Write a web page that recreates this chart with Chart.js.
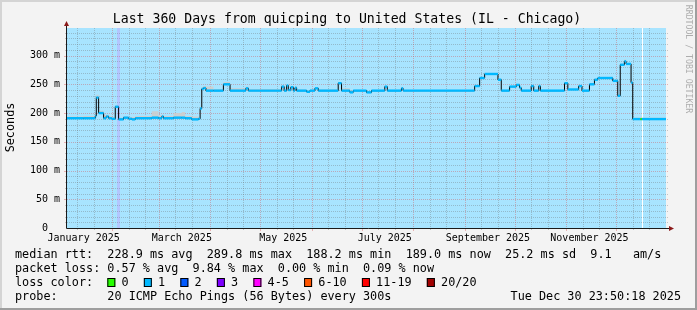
<!DOCTYPE html>
<html>
<head>
<meta charset="utf-8">
<script src="https://cdn.jsdelivr.net/npm/chart.js@4.4.1/dist/chart.umd.min.js"></script>
<style>
html, body { margin: 0; padding: 0; background: #f3f3f3; }
canvas { display: block; }
</style>
</head>
<body>
<canvas id="chart" width="697" height="310"></canvas>
<script>
// days since Jan 5 2025 where each median step starts
const stepDay = [0, 10, 17, 17.6, 19, 22, 23.5, 25, 27, 29, 31, 34, 37, 39, 41, 51, 55, 57, 58, 64,
  69, 71, 75, 79, 80, 81, 82, 83.5, 88, 94, 98, 107.5, 109, 129, 130.5, 132, 133, 134.5, 136, 137,
  138, 144, 146, 149, 151, 163, 165, 170, 172, 180, 183, 191, 192.5, 201, 202, 245, 248, 251, 259, 261,
  266, 270, 272, 273, 279, 280.5, 283.5, 284.5, 299, 301, 307.5, 309.5, 314, 317, 319, 328, 331, 332.5, 335, 336,
  339, 340, 344.7, 345.5];
// median rtt (ms)
const median = [191, 191, 195, 227, 200, 191, 194, 191, 190, 211, 189, 192, 190, 189, 191, 192, 191, 194, 191, 192,
  192, 191, 189, 190, 208, 242, 243.5, 239, 239, 250, 239, 243, 239, 246, 239, 248, 240, 245, 239, 244,
  239, 237, 239, 243, 239, 252, 239, 236, 239, 236, 239, 246, 239, 243, 239, 247, 261, 268, 258, 239,
  246, 249, 244, 239, 247, 239, 247, 239, 252, 241, 247, 239, 250, 258, 261, 256, 230, 284, 290, 285.5,
  253, 189.5, 189.5, 189.5];
// top of the smoke (ms)
const smokeTop = [194, 195, 199, 232, 204, 197, 197, 195, 193, 213, 192, 194, 193, 193, 195, 203, 196, 197, 195, 200,
  202, 195, 194, 192, 210, 245, 247, 246, 242, 254, 243, 246, 242, 248, 242, 250, 242, 247, 241, 246,
  241, 239, 241, 244, 241, 253, 243, 238, 240, 237, 240, 247, 240, 244, 240, 248, 262, 269, 259, 240,
  247, 250, 245, 240, 248, 240, 248, 240, 253, 242, 248, 240, 251, 259, 262, 257, 232, 286, 293, 287,
  255, 192, 194, 192];
// loss colour bin of each step
const lossBin = [1, 1, 1, 1, 1, 1, 1, 1, 1, 1, 1, 1, 1, 1, 1, 1, 1, 1, 1, 1,
  1, 1, 1, 1, 1, 1, 1, 1, 1, 1, 1, 1, 1, 1, 1, 1, 1, 1, 1, 1,
  1, 1, 1, 1, 1, 1, 1, 1, 1, 1, 1, 1, 1, 1, 1, 1, 1, 1, 1, 1,
  1, 1, 1, 1, 1, 1, 1, 1, 1, 1, 1, 1, 1, 1, 1, 1, 1, 1, 1, 1,
  1, 1, 0, 1];
const endDay = 360;

const bandDays = [30.5];
const gapDays = [345.3];

const monthStarts = [27, 55, 86, 116, 147, 177, 208, 239, 269, 300, 330];
const minorDays = [6, 16, 37, 47, 65, 75, 96, 106, 126, 136, 157, 167, 187, 197, 218, 228,
  249, 259, 279, 289, 310, 320, 340, 350];
const labelDays = [10, 69, 130, 191, 253, 314];
const labelText = ['January 2025', 'March 2025', 'May 2025', 'July 2025', 'September 2025', 'November 2025'];
const yTicks = [0, 50, 100, 150, 200, 250, 300];
const yMax = 348;

const lossColors = ['#26ff00', '#00b8ff', '#0059ff', '#7e00ff', '#ff00ff', '#ff5500', '#ff0000', '#a10000'];
const lossLabels = ['0', '1', '2', '3', '4-5', '6-10', '11-19', '20/20'];

const titleText = 'Last 360 Days from quicping to United States (IL - Chicago)';
const legendLines = [
  'median rtt:  228.9 ms avg  289.8 ms max  188.2 ms min  189.0 ms now  25.2 ms sd  9.1   am/s',
  'packet loss: 0.57 % avg  9.84 % max  0.00 % min  0.09 % now',
  'loss color:',
  'probe:       20 ICMP Echo Pings (56 Bytes) every 300s'
];
const stampText = 'Tue Dec 30 23:50:18 2025';

const mono = "'DejaVu Sans Mono', monospace";

// build points
var linePts = stepDay.map((d, i) => ({x: d, y: median[i]}));
linePts.push({x: endDay, y: median[median.length - 1]});
var smokePts = stepDay.map((d, i) => ({x: d, y: smokeTop[i]}));
smokePts.push({x: endDay, y: smokeTop[smokeTop.length - 1]});
var bluePts = [], blueBin = [];
stepDay.forEach((d, i) => {
    var next = i + 1 < stepDay.length ? stepDay[i + 1] : endDay;
    bluePts.push({x: d, y: median[i]}, {x: next, y: median[i]}, {x: next, y: null});
    blueBin.push(lossBin[i], lossBin[i], lossBin[i]);
});

function crisp(v) { return Math.round(v) + 0.5; }

const rrdPlugin = {
    id: 'rrd',
    beforeDraw(chart) {
        const ctx = chart.ctx, a = chart.chartArea;
        const x = chart.scales.x;
        ctx.save();
        ctx.fillStyle = '#f3f3f3';
        ctx.fillRect(0, 0, chart.width, chart.height);
        // frame
        ctx.fillStyle = '#d4d4d4';
        ctx.fillRect(0, 0, chart.width, 2);
        ctx.fillRect(0, 0, 2, chart.height);
        ctx.fillStyle = '#9e9e9e';
        ctx.fillRect(0, chart.height - 2, chart.width, 2);
        ctx.fillRect(chart.width - 2, 0, 2, chart.height);
        // canvas
        ctx.fillStyle = '#a8e4ff';
        ctx.fillRect(a.left, a.top, a.right - a.left, a.bottom - a.top);
        bandDays.forEach(d => {
            ctx.fillStyle = '#b3c6ff';
            ctx.fillRect(Math.round(x.getPixelForValue(d)) - 1, a.top, 3, a.bottom - a.top);
        });
        gapDays.forEach(d => {
            ctx.fillStyle = '#ffffff';
            ctx.fillRect(Math.round(x.getPixelForValue(d)), a.top, 1, a.bottom - a.top);
        });
        ctx.restore();
    },
    beforeDatasetsDraw(chart) {
        const ctx = chart.ctx, a = chart.chartArea;
        const x = chart.scales.x, y = chart.scales.y;
        const minorCol = 'rgba(110,110,110,0.35)';
        const majorCol = 'rgba(215,70,70,0.38)';
        ctx.save();
        ctx.lineWidth = 1;
        // horizontal grid
        for (var v = 10; v < yMax; v += 10) {
            var py = crisp(y.getPixelForValue(v));
            var major = yTicks.indexOf(v) >= 0;
            ctx.strokeStyle = major ? majorCol : minorCol;
            ctx.setLineDash([1, 1]);
            ctx.beginPath(); ctx.moveTo(a.left, py); ctx.lineTo(a.right + 3, py); ctx.stroke();
            ctx.setLineDash([]);
            ctx.beginPath(); ctx.moveTo(a.left - (major ? 3 : 2), py); ctx.lineTo(a.left, py); ctx.stroke();
        }
        // vertical grid
        function vline(d, col, tick) {
            var px = crisp(x.getPixelForValue(d));
            ctx.strokeStyle = col;
            ctx.setLineDash([1, 1]);
            ctx.beginPath(); ctx.moveTo(px, a.top); ctx.lineTo(px, a.bottom); ctx.stroke();
            ctx.setLineDash([]);
            ctx.beginPath(); ctx.moveTo(px, a.bottom); ctx.lineTo(px, a.bottom + tick); ctx.stroke();
        }
        minorDays.forEach(d => vline(d, minorCol, 2));
        monthStarts.forEach(d => vline(d, majorCol, 3));
        ctx.restore();
    },
    afterDatasetsDraw(chart) {
        const ctx = chart.ctx, a = chart.chartArea;
        ctx.save();
        ctx.strokeStyle = '#1a1a1a';
        ctx.lineWidth = 1;
        ctx.beginPath();
        ctx.moveTo(a.left - 0.5, a.bottom + 0.5); ctx.lineTo(a.right + 4, a.bottom + 0.5);
        ctx.moveTo(a.left - 0.5, a.bottom + 0.5); ctx.lineTo(a.left - 0.5, a.top - 3);
        ctx.stroke();
        ctx.fillStyle = '#8b1a1a';
        ctx.beginPath();
        ctx.moveTo(a.left - 0.5, a.top - 7); ctx.lineTo(a.left - 3, a.top - 2); ctx.lineTo(a.left + 2, a.top - 2);
        ctx.closePath(); ctx.fill();
        ctx.beginPath();
        ctx.moveTo(a.right + 8, a.bottom + 0.5); ctx.lineTo(a.right + 3, a.bottom - 2); ctx.lineTo(a.right + 3, a.bottom + 3);
        ctx.closePath(); ctx.fill();
        ctx.restore();
    },
    afterDraw(chart) {
        const ctx = chart.ctx;
        ctx.save();
        ctx.fillStyle = '#000';
        ctx.textBaseline = 'middle';
        // title
        ctx.font = '13.2px ' + mono;
        ctx.textAlign = 'center';
        ctx.fillText(titleText, 347, 19.5);
        // legend
        ctx.font = '11.8px ' + mono;
        ctx.textAlign = 'left';
        var cw = ctx.measureText('0').width;
        var rows = [254.5, 268.5, 282.5, 296.5];
        legendLines.forEach((t, i) => ctx.fillText(t, 15, rows[i]));
        var lx = 15 + 13 * cw;
        lossLabels.forEach((lab, i) => {
            ctx.fillStyle = lossColors[i];
            ctx.fillRect(lx, 278, 8, 9);
            ctx.strokeStyle = '#000';
            ctx.lineWidth = 1;
            ctx.strokeRect(lx + 0.5, 278.5, 7, 8);
            ctx.fillStyle = '#000';
            ctx.fillText(lab, lx + 2 * cw, rows[2]);
            lx += (lab.length + 4) * cw + 1;
        });
        ctx.textAlign = 'right';
        ctx.fillText(stampText, 681, rows[3]);
        // axis title
        ctx.save();
        ctx.translate(10.5, 127.5);
        ctx.rotate(-Math.PI / 2);
        ctx.textAlign = 'center';
        ctx.fillText('Seconds', 0, 0);
        ctx.restore();
        // watermark
        ctx.save();
        ctx.translate(688, 59);
        ctx.rotate(Math.PI / 2);
        ctx.font = '8.2px ' + mono;
        ctx.fillStyle = '#adadad';
        ctx.textAlign = 'center';
        ctx.fillText('RRDTOOL / TOBI OETIKER', 0, 0);
        ctx.restore();
        ctx.restore();
    }
};

new Chart(document.getElementById('chart').getContext('2d'), {
    type: 'line',
    data: {
        datasets: [{
            label: 'median',
            data: bluePts,
            borderWidth: 2.4,
            borderColor: '#00b8ff',
            spanGaps: false,
            pointRadius: 0,
            fill: false,
            segment: {
                borderColor: ctx => lossColors[blueBin[ctx.p0DataIndex]]
            }
        }, {
            label: 'steps',
            data: linePts,
            stepped: true,
            borderWidth: 1,
            borderColor: '#000',
            pointRadius: 0,
            fill: false
        }, {
            label: 'smoke',
            data: smokePts,
            stepped: true,
            borderWidth: 0,
            borderColor: 'rgba(0,0,0,0)',
            backgroundColor: 'rgba(205,205,205,0.9)',
            pointRadius: 0,
            fill: 1
        }]
    },
    options: {
        responsive: false,
        animation: false,
        devicePixelRatio: 1,
        layout: {
            padding: {left: 0, right: 31, top: 28, bottom: 0}
        },
        plugins: {
            legend: {display: false},
            tooltip: {enabled: false},
            title: {display: false}
        },
        scales: {
            x: {
                type: 'linear',
                min: 0,
                max: endDay,
                afterFit: s => { s.height = 82; },
                afterBuildTicks: s => { s.ticks = labelDays.map(v => ({value: v})); },
                grid: {display: false, drawTicks: false},
                border: {display: false},
                ticks: {
                    callback: (v, i) => labelText[i],
                    font: {family: mono, size: 10},
                    color: '#000',
                    maxRotation: 0,
                    autoSkip: false,
                    padding: 4
                }
            },
            y: {
                type: 'linear',
                min: 0,
                max: yMax,
                afterFit: s => { s.width = 67; },
                afterBuildTicks: s => { s.ticks = yTicks.map(v => ({value: v})); },
                grid: {display: false, drawTicks: false},
                border: {display: false},
                ticks: {
                    callback: v => v === 0 ? '0  ' : v + ' m',
                    font: {family: mono, size: 10},
                    color: '#000',
                    padding: 7
                }
            }
        }
    },
    plugins: [rrdPlugin]
});
</script>
</body>
</html>
